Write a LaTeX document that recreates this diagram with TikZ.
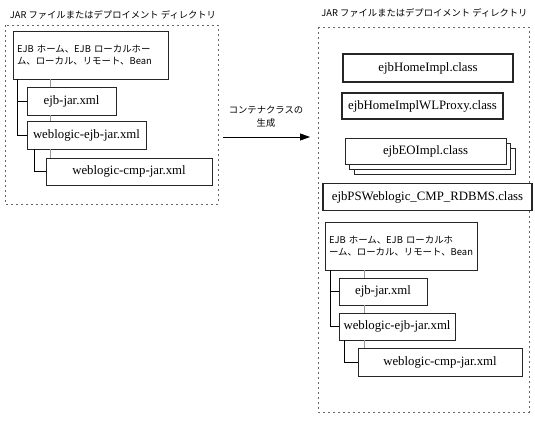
\documentclass[tikz,border=0pt]{standalone}
\usepackage{fontspec}
\setmainfont{Liberation Serif}
\newfontfamily\jpfont{Noto Sans CJK JP}
\usetikzlibrary{arrows.meta}
\begin{document}
\begin{tikzpicture}[x=1pt,y=-1pt,
  dashbox/.style={draw=black!60, line width=0.8pt, dash pattern=on 2pt off 3pt},
  filebox/.style={draw=black!85, line width=0.8pt, fill=white, inner sep=0pt, font=\fontsize{12.8}{14}\selectfont},
  classbox/.style={draw=black!85, line width=1.6pt, fill=white, inner sep=0pt, font=\fontsize{12.8}{14}\selectfont},
  stackbox/.style={draw=black!85, line width=1pt, fill=white, inner sep=0pt, font=\fontsize{12.8}{14}\selectfont,
     minimum width=161, minimum height=26},
  ejbbox/.style={draw=black!85, line width=0.8pt, fill=white, inner sep=0pt, align=left,
     font=\jpfont\fontsize{9.4}{12}\selectfont},
  title/.style={font=\jpfont\fontsize{9.3}{11}\selectfont, inner sep=0pt},
  tree/.style={draw=black, line width=0.8pt},
  link/.style={draw=black!40, line width=0.8pt}
]
\useasboundingbox (0,0) rectangle (535,425);

% ---------- left group ----------
\node[title] (ltitle) at (113,15) {JAR ファイルまたはデプロイメント ディレクトリ};
\draw[dashbox] (5,25) rectangle (218,204);

\node[ejbbox, minimum width=155, minimum height=48, text width=147] (lejb) at (90.5,55)
  {EJB ホーム、EJB ローカルホー\\ム、ローカル、リモート、Bean\par\vspace{8pt}};
\node[filebox, minimum width=89, minimum height=28] (lejbjar) at (71.5,101) {ejb-jar.xml};
\node[filebox, minimum width=119, minimum height=28] (lwl) at (86.5,135) {weblogic-ejb-jar.xml};
\node[filebox, minimum width=166, minimum height=27] (lcmp) at (129,171.5) {weblogic-cmp-jar.xml};

\draw[link] (lejb.south -| 50,0) -- (lejbjar.north -| 50,0);
\draw[link] (lejbjar.south -| 50,0) -- (lwl.north -| 50,0);
\draw[link] (lwl.south -| 50,0) -- (lcmp.north -| 50,0);
\draw[tree] (lejb.south -| 17,0) |- (lwl.west);
\draw[tree] (17,0 |- lejbjar.west) -- (lejbjar.west);
\draw[tree] (lwl.south -| 34,0) |- (lcmp.west);

% ---------- arrow ----------
\node[font=\jpfont\fontsize{9.3}{12.5}\selectfont, align=center, inner sep=0pt] (lbl) at (266,116.5)
  {コンテナクラスの\\生成};
\coordinate (astart) at (223,137);
\coordinate (aend) at (310,137);
\draw[line width=0.8pt, -{Triangle[length=10pt,width=7pt]}] (astart) -- (aend);

% ---------- right group ----------
\node[title] (rtitle) at (424.5,13) {JAR ファイルまたはデプロイメント ディレクトリ};
\draw[dashbox] (318,27) rectangle (529,412);

\node[classbox, minimum width=170, minimum height=28] (home) at (428,68) {ejbHomeImpl.class};
\node[classbox, minimum width=161, minimum height=26] (proxy) at (422.5,106) {ejbHomeImplWLProxy.class};
\node[stackbox] (eo3) at (434.5,161) {};
\node[stackbox] (eo2) at (430,156) {};
\node[stackbox] (eo) at (425.5,151) {ejbEOImpl.class};
\node[classbox, minimum width=209, minimum height=27] (ps) at (427.5,197) {ejbPSWeblogic\_CMP\_RDBMS.class};

\node[ejbbox, minimum width=152, minimum height=48, text width=144] (rejb) at (401,246)
  {EJB ホーム、EJB ローカルホ\\ーム、ローカル、リモート、Bean\par\vspace{8pt}};
\node[filebox, minimum width=88, minimum height=27] (rejbjar) at (383,291.5) {ejb-jar.xml};
\node[filebox, minimum width=116, minimum height=27] (rwl) at (397,326.5) {weblogic-ejb-jar.xml};
\node[filebox, minimum width=164, minimum height=28] (rcmp) at (440,362) {weblogic-cmp-jar.xml};

\draw[link] (rejb.south -| 364,0) -- (rejbjar.north -| 364,0);
\draw[link] (rejbjar.south -| 364,0) -- (rwl.north -| 364,0);
\draw[link] (rwl.south -| 364,0) -- (rcmp.north -| 364,0);
\draw[tree] (rejb.south -| 330,0) |- (rwl.west);
\draw[tree] (330,0 |- rejbjar.west) -- (rejbjar.west);
\draw[tree] (rwl.south -| 344,0) |- (rcmp.west);
\end{tikzpicture}
\end{document}
